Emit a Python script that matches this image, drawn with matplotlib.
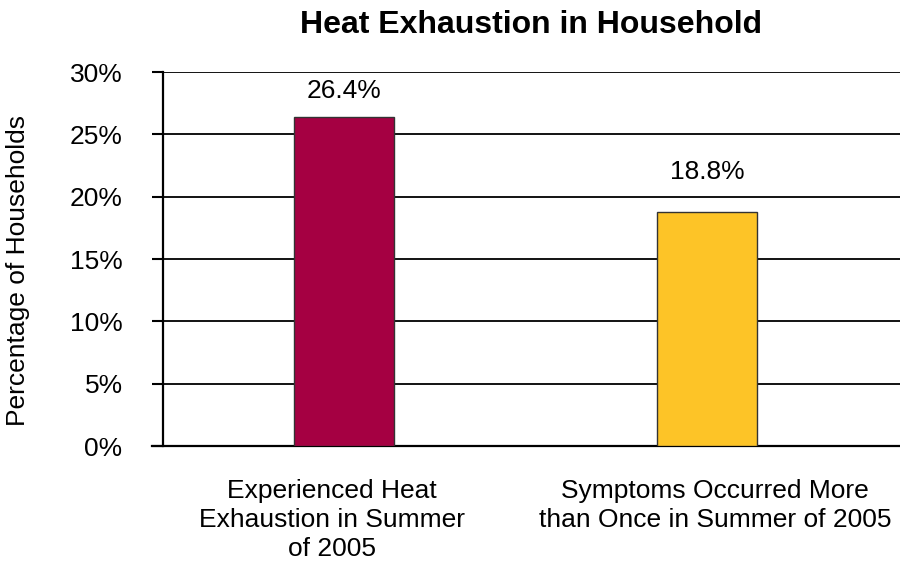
import matplotlib
matplotlib.use("Agg")
import matplotlib.pyplot as plt
import matplotlib.transforms as mtransforms
from matplotlib.ticker import FuncFormatter

categories = ["Experienced Heat\nExhaustion in Summer\nof 2005",
              "Symptoms Occurred More\nthan Once in Summer of 2005"]
values = [26.4, 18.8]
value_labels = ["26.4%", "18.8%"]
bar_colors = ["#A50042", "#FDC427"]
y_ticks = [0, 5, 10, 15, 20, 25, 30]

plt.rcParams["font.family"] = ["Liberation Sans", "DejaVu Sans"]

fig = plt.figure(figsize=(9, 5.77), dpi=100)
ax = fig.add_axes([0.181, 0.227, 0.819, 0.648])

x = list(range(len(categories)))
bars = ax.bar(x, values, width=0.275, color=bar_colors,
              edgecolor="#333333", linewidth=1.0, zorder=3)

ax.set_xlim(-0.4986, 1.532)
ax.set_ylim(0, 30)
ax.set_yticks(y_ticks)
ax.yaxis.set_major_formatter(FuncFormatter(lambda v, p: f"{v:.0f}%"))
ax.yaxis.grid(True, color="black", linewidth=1.3, zorder=0)
ax.set_axisbelow(True)

for side in ["top", "right"]:
    ax.spines[side].set_visible(False)
ax.spines["left"].set_linewidth(1.6)
ax.spines["bottom"].set_linewidth(1.6)
ax.spines["bottom"].set_bounds(-0.53, 1.532)

ax.tick_params(axis="y", length=8, width=1.5, pad=21, labelsize=19)
ax.tick_params(axis="x", length=0, pad=24, labelsize=19)
ax.set_xticks(x)
ax.set_xticklabels(categories, linespacing=1.25)

# nudge category labels as laid out in the source chart
label_shift_px = [-12, 8]
for lbl, dx in zip(ax.get_xticklabels(), label_shift_px):
    lbl.set_transform(lbl.get_transform() +
                      mtransforms.ScaledTranslation(dx / 100, 0, fig.dpi_scale_trans))

# value labels above the bars
label_gap_pt = [10, 20]
for b, txt, gap in zip(bars, value_labels, label_gap_pt):
    ax.annotate(txt, (b.get_x() + b.get_width() / 2, b.get_height()),
                xytext=(0, gap), textcoords="offset points",
                ha="center", va="bottom", fontsize=19)

ax.set_ylabel("Percentage of Households", fontsize=19)
ax.yaxis.set_label_coords(-0.18, 0.47)

ax.set_title("Heat Exhaustion in Household", fontsize=23,
             fontweight="bold", pad=28)

fig.savefig("out.png", dpi=100)
